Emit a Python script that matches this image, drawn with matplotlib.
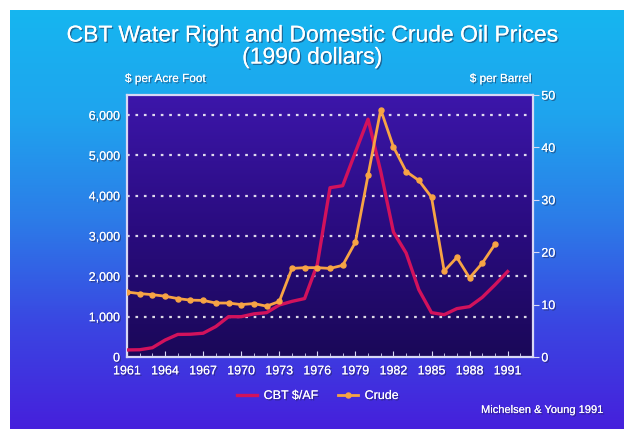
import numpy as np
import matplotlib
matplotlib.use("Agg")
import matplotlib.pyplot as plt
import matplotlib.patheffects as pe
from matplotlib.colors import LinearSegmentedColormap
from matplotlib.lines import Line2D

# ── DATA ───────────────────────────────────────────────────
years_cbt = list(range(1961, 1992))
cbt_af = [175, 180, 230, 420, 560, 565, 590, 755, 1000, 1000, 1070, 1100,
          1290, 1380, 1450, 2300, 4200, 4250, 5080, 5900, 4600, 3100, 2580,
          1670, 1100, 1050, 1200, 1250, 1480, 1790, 2120]

years_crude = list(range(1961, 1991))
crude = [12.4, 12.1, 11.9, 11.6, 11.15, 10.85, 10.8, 10.3, 10.3, 10.0, 10.2,
         9.7, 10.6, 16.9, 17.05, 17.05, 16.9, 17.5, 21.9, 34.7, 47.2, 40.1,
         35.4, 33.7, 30.5, 16.4, 19.0, 15.1, 17.9, 21.5]

left_ticks = [0, 1000, 2000, 3000, 4000, 5000, 6000]
right_ticks = [0, 10, 20, 30, 40, 50]
year_ticks = list(range(1961, 1992, 3))

# ── PALETTE ────────────────────────────────────────────────
RED = "#d2125c"
ORANGE = "#f7a445"
WHITE = "#ffffff"
SPINE = "#d8d8f4"

plt.rcParams["font.family"] = ["Liberation Sans", "DejaVu Sans"]

shadow = [pe.withSimplePatchShadow(offset=(1, -1), shadow_rgbFace="#202040", alpha=0.5),
          pe.Normal()]

fig = plt.figure(figsize=(6.24, 4.29), dpi=100)
fig.patch.set_facecolor("white")

# slide background gradient (cyan -> blue/violet), with white edge top/left
bg = fig.add_axes([10 / 624, 0, 1 - 10 / 624, 1 - 10 / 429])
bg_cmap = LinearSegmentedColormap.from_list(
    "bg", ["#16b6f0", "#1fa4ee", "#2c7ce8", "#3a46e2", "#4620dc"])
grad = np.linspace(0, 1, 256).reshape(-1, 1)
bg.imshow(grad, aspect="auto", cmap=bg_cmap, extent=[0, 1, 0, 1])
bg.set_axis_off()

# ── MAIN AXES ──────────────────────────────────────────────
ax = fig.add_axes([127 / 624, 1 - 357 / 429, 406 / 624, 262 / 429])
ax.set_zorder(2)
# plot area: lighter violet at top, dark navy at bottom
pa_cmap = LinearSegmentedColormap.from_list("pa", ["#3c16aa", "#2a0c80", "#1a0858"])
ax.imshow(grad, aspect="auto", cmap=pa_cmap, extent=[0, 1, 0, 1],
          transform=ax.transAxes, zorder=0)

ax.set_xlim(1961, 1993)
ax.set_ylim(0, 6500)
for v in left_ticks[1:]:
    ax.axhline(v, color=WHITE, lw=1.6, ls=(0, (1.2, 2.6)), alpha=0.85, zorder=1)

ax.plot(years_cbt, cbt_af, color=RED, lw=2.4, solid_joinstyle="round", zorder=3)

ax.set_yticks(left_ticks)
ax.set_yticklabels([f"{v:,}" for v in left_ticks])
ax.set_xticks(year_ticks)
ax.set_xticks(range(1961, 1994), minor=True)
ax.tick_params(axis="x", which="both", direction="in", colors=SPINE, length=3,
               labelcolor=WHITE, labelsize=9, pad=6)
ax.tick_params(axis="x", which="major", length=4)
ax.tick_params(axis="y", length=0, labelcolor=WHITE, labelsize=9, pad=5)
for lab in ax.get_xticklabels() + ax.get_yticklabels():
    lab.set_path_effects(shadow)
for s in ax.spines.values():
    s.set_color(SPINE)
    s.set_linewidth(1.6)

# right axis for crude
ax2 = ax.twinx()
ax2.set_ylim(0, 50)
ax2.plot(years_crude, crude, color=ORANGE, lw=2, marker="o", ms=3.6,
         solid_joinstyle="round", zorder=4)
ax2.set_yticks(right_ticks)
ax2.tick_params(axis="y", direction="out", length=4, colors=SPINE,
                labelcolor=WHITE, labelsize=9, pad=2)
for lab in ax2.get_yticklabels():
    lab.set_path_effects(shadow)
for s in ax2.spines.values():
    s.set_visible(False)

# ── TEXT ───────────────────────────────────────────────────
fig.text(0.5, 1 - 35 / 429, "CBT Water Right and Domestic Crude Oil Prices",
         ha="center", va="center", fontsize=16.5, color=WHITE, path_effects=shadow)
fig.text(0.5, 1 - 57 / 429, "(1990 dollars)", ha="center", va="center",
         fontsize=16.5, color=WHITE, path_effects=shadow)
fig.text(125 / 624, 1 - 79 / 429, r"\$ per Acre Foot", ha="left", va="center",
         fontsize=8.5, color=WHITE, path_effects=shadow)
fig.text(531 / 624, 1 - 79 / 429, r"\$ per Barrel", ha="right", va="center",
         fontsize=8.5, color=WHITE, path_effects=shadow)
fig.text(604 / 624, 1 - 410 / 429, "Michelsen & Young 1991", ha="right",
         va="center", fontsize=8, color=WHITE, path_effects=shadow)

handles = [Line2D([], [], color=RED, lw=2.4),
           Line2D([], [], color=ORANGE, lw=2, marker="o", ms=3.6)]
leg = fig.legend(handles, [r"CBT \$/AF", "Crude"], loc="center",
                 bbox_to_anchor=(318 / 624, 1 - 396 / 429), ncol=2, frameon=False,
                 fontsize=9, labelcolor=WHITE, handlelength=1.6,
                 columnspacing=1.6, handletextpad=0.5)
for t in leg.get_texts():
    t.set_path_effects(shadow)

fig.savefig("out.png", dpi=100)
